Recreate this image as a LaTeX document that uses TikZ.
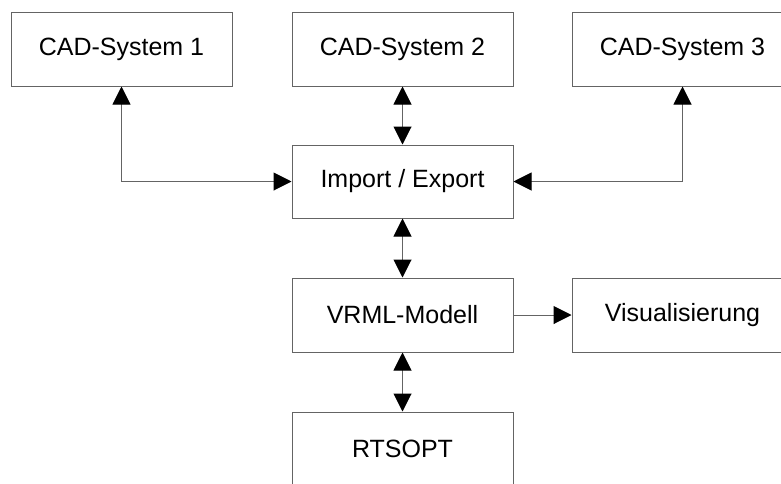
\documentclass[tikz,border=0pt]{standalone}
\usepackage{fontspec}
\setmainfont{Liberation Sans}
\usetikzlibrary{arrows.meta}
\definecolor{linegray}{RGB}{100,100,100}
\begin{document}
\begin{tikzpicture}[x=1pt,y=-1pt,
  box/.style={draw=linegray,line width=1pt,minimum width=221pt,minimum height=74pt,inner sep=0pt,font=\fontsize{25}{30}\selectfont},
  conn/.style={draw=linegray,line width=1pt},
  tip/.style={-{Triangle[length=18pt,width=18pt,color=black]}},
  dtip/.style={{Triangle[length=18pt,width=18pt,color=black]}-{Triangle[length=18pt,width=18pt,color=black]}}]
\useasboundingbox (0,0) rectangle (781,483);
\clip (0,0) rectangle (781,483);
\fill[white] (0,0) rectangle (781,483);
\node[box] (cad1) at (121.5,49) {CAD-System 1};
\node[box] (cad2) at (402.5,49) {CAD-System 2};
\node[box] (cad3) at (682.5,49) {CAD-System 3};
\node[box,minimum height=73pt] (imp) at (402.5,181.5) {Import / Export};
\node[box] (vrml) at (402.5,315) {VRML-Modell};
\node[box] (vis) at (682.5,315) {Visualisierung};
\node[box] (rts) at (402.5,449) {RTSOPT};
\draw[conn,dtip] (cad1.south) |- (imp.west);
\draw[conn,dtip] (cad3.south) |- (imp.east);
\draw[conn,dtip] (cad2.south) -- (imp.north);
\draw[conn,dtip] (imp.south) -- (vrml.north);
\draw[conn,dtip] (vrml.south) -- (rts.north);
\draw[conn,tip] (vrml.east) -- (vis.west);
\end{tikzpicture}
\end{document}
